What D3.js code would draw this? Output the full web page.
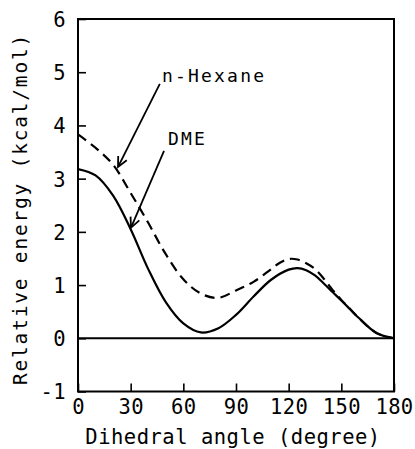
<!DOCTYPE html>
<html><head><meta charset="utf-8">
<script src="https://cdn.jsdelivr.net/npm/d3@7"></script>
<style>body{margin:0;background:#fff}svg{display:block}text{font-family:"DejaVu Sans Mono",monospace;fill:#000}</style>
</head><body><svg id="c" width="415" height="449"></svg>
<script>
const dmeAngles = [0,10,20,30,40,50,60,70,80,90,100,110,120,125,130,135,140,145,150,155,160,170,180];
const dmeEnergy = [3.18,3.06,2.68,2.05,1.30,0.68,0.28,0.11,0.19,0.44,0.785,1.10,1.29,1.32,1.28,1.18,1.03,0.87,0.71,0.545,0.38,0.10,0.0];
const hexAngles = [0,10,20,30,40,50,60,70,80,90,100,110,115,120,125,130,135,140,145,150,155,160,170,180];
const hexEnergy = [3.83,3.58,3.26,2.73,2.17,1.58,1.11,0.84,0.76,0.90,1.06,1.30,1.42,1.49,1.48,1.41,1.30,1.12,0.91,0.72,0.55,0.38,0.10,0.0];
const xTicks = [0,30,60,90,120,150,180];
const yTicks = [-1,0,1,2,3,4,5,6];
const labels = [
  {text:"n-Hexane", tx:47.8, ty:4.82, from:[46.6,4.78], to:[22.8,3.22]},
  {text:"DME", tx:51.3, ty:3.64, from:[49,3.52], to:[30.2,2.08]}
];

const svg = d3.select("#c");
const L=78, T=19, R=394, B=391.5;
const x = d3.scaleLinear().domain([0,180]).range([L,R]);
const y = d3.scaleLinear().domain([-1,6]).range([B,T]);

// frame
svg.append("rect").attr("x",L).attr("y",T).attr("width",R-L).attr("height",B-T)
  .attr("fill","none").attr("stroke","#000").attr("stroke-width",2);

// axes with inward ticks
const gx = svg.append("g").attr("transform",`translate(0,${B})`)
  .call(d3.axisBottom(x).tickValues(xTicks).tickSize(-8).tickPadding(8).tickFormat(d3.format("d")));
const gy = svg.append("g").attr("transform",`translate(${L},0)`)
  .call(d3.axisLeft(y).tickValues(yTicks).tickSize(-8).tickPadding(12).tickFormat(d=> d<0 ? "-"+Math.abs(d) : d));
[gx,gy].forEach(g=>{
  g.select(".domain").remove();
  g.selectAll(".tick line").attr("stroke","#000").attr("stroke-width",1.6);
  g.selectAll(".tick text").style("font-size","20.5px").style("letter-spacing","0.4px");
});
gx.selectAll(".tick text").attr("dy","0.71em");
gy.selectAll(".tick text").attr("dy","0.36em");

// zero line
svg.append("line").attr("x1",x(0)).attr("x2",x(180)).attr("y1",y(0)).attr("y2",y(0))
  .attr("stroke","#000").attr("stroke-width",2);

const line = d3.line().x(d=>x(d[0])).y(d=>y(d[1])).curve(d3.curveCatmullRom.alpha(0.5));
svg.append("path").datum(hexAngles.map((a,i)=>[a,hexEnergy[i]]))
  .attr("d",line).attr("fill","none").attr("stroke","#000").attr("stroke-width",2.2)
  .attr("stroke-dasharray","10,6");
svg.append("path").datum(dmeAngles.map((a,i)=>[a,dmeEnergy[i]]))
  .attr("d",line).attr("fill","none").attr("stroke","#000").attr("stroke-width",2.2);

// annotations
labels.forEach(l=>{
  svg.append("text").attr("x",x(l.tx)).attr("y",y(l.ty)).text(l.text)
    .style("font-size","18px").style("letter-spacing","2.2px");
  const x1=x(l.from[0]), y1=y(l.from[1]), x2=x(l.to[0]), y2=y(l.to[1]);
  svg.append("line").attr("x1",x1).attr("y1",y1).attr("x2",x2).attr("y2",y2)
    .attr("stroke","#000").attr("stroke-width",1.8);
  const ang=Math.atan2(y1-y2,x1-x2), len=11, sp=0.45;
  const p = d3.path();
  p.moveTo(x2+len*Math.cos(ang-sp), y2+len*Math.sin(ang-sp));
  p.lineTo(x2,y2);
  p.lineTo(x2+len*Math.cos(ang+sp), y2+len*Math.sin(ang+sp));
  svg.append("path").attr("d",p.toString()).attr("fill","none").attr("stroke","#000").attr("stroke-width",1.8);
});

// axis titles
svg.append("text").attr("x",(L+R)/2 - 3).attr("y",444).attr("text-anchor","middle")
  .style("font-size","20.5px").style("letter-spacing","0.5px").text("Dihedral angle (degree)");
svg.append("text").attr("transform",`translate(27,${(33+385)/2}) rotate(-90)`).attr("text-anchor","middle")
  .style("font-size","19.5px").style("letter-spacing","1.8px").text("Relative energy (kcal/mol)");
</script></body></html>
